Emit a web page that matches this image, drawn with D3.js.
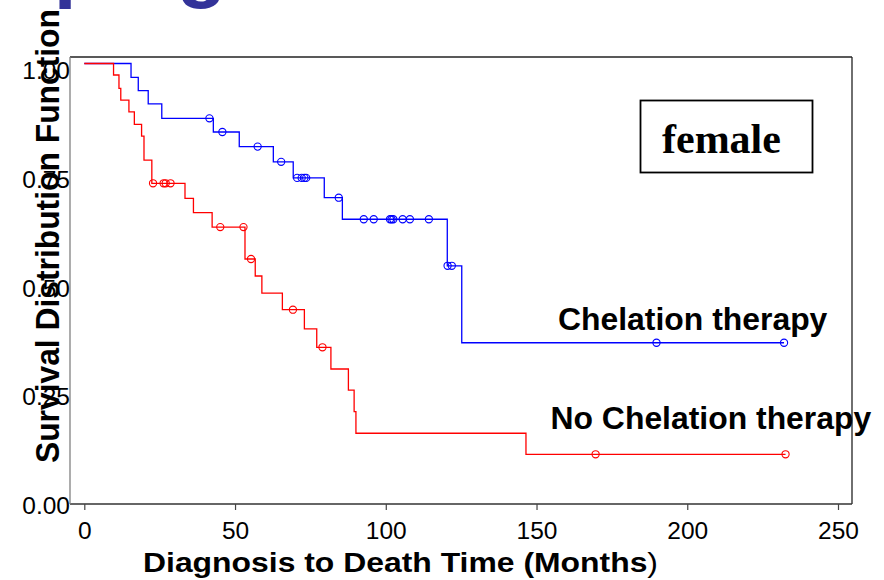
<!DOCTYPE html>
<html>
<head>
<meta charset="utf-8">
<script src="https://cdn.jsdelivr.net/npm/d3@7"></script>
<style>
  html, body { margin: 0; padding: 0; background: #fff; }
  svg { display: block; }
</style>
</head>
<body>
<svg id="chart" width="884" height="580"></svg>
<script>
// Kaplan–Meier survival, female patients, by chelation therapy

// Chelation therapy: step times (months) and survival after each step
const chelTimes = [0, 15.5, 17.9, 21.2, 25.7, 42.8, 51.4, 62.7, 69.3, 79.6, 85.6, 120.4, 125.2];
const chelSurv  = [1, 0.968, 0.9375, 0.907, 0.874, 0.8425, 0.809, 0.774, 0.737, 0.6915, 0.642, 0.535, 0.358];
const chelCensor = [41.5, 45.8, 57.5, 65.3, 70.6, 72.1, 73.0, 73.6, 84.4, 92.7, 96.0, 101.4, 101.9,
                    102.5, 105.6, 108.0, 114.3, 120.5, 121.9, 189.8, 232.1];

// No chelation therapy
const noChelTimes = [0, 9.7, 11.5, 12.1, 14.8, 16.6, 19.0, 19.8, 22.4, 33.4, 36.2, 42.4, 53.3, 56.7,
                     58.9, 65.7, 73.0, 77.1, 81.8, 87.6, 89.5, 90.1, 146.5];
const noChelSurv  = [1, 0.9736, 0.943, 0.916, 0.889, 0.860, 0.833, 0.778, 0.7246, 0.690, 0.657, 0.624,
                     0.5506, 0.5115, 0.472, 0.434, 0.390, 0.3476, 0.2977, 0.249, 0.1995, 0.150, 0.1016];
const noChelCensor = [22.8, 26.3, 27.0, 28.6, 45.1, 52.8, 55.3, 69.2, 79.0, 169.6, 232.6];

const xTicks = [0, 50, 100, 150, 200, 250];
const yTicks = [0, 0.25, 0.5, 0.75, 1.0];

const groups = [
  { name: "Chelation therapy", times: chelTimes, surv: chelSurv, censor: chelCensor, color: "#0000ff" },
  { name: "No Chelation therapy", times: noChelTimes, surv: noChelSurv, censor: noChelCensor, color: "#ff0000" }
];

const svg = d3.select("#chart");
const frame = { left: 70, right: 852, top: 57, bottom: 504 };

const x = d3.scaleLinear().domain([0, 250]).range([84.3, 838]);
const y = d3.scaleLinear().domain([0, 1]).range([498.5, 63.5]);

// slide heading, mostly above the visible area
svg.append("text")
  .attr("x", -142).attr("y", -8)
  .attr("font-family", "Liberation Sans, Arial, sans-serif")
  .attr("font-weight", "bold").attr("font-size", 82)
  .attr("fill", "#333399")
  .text("Grouping");

// plot frame
svg.append("line").attr("x1", frame.left).attr("x2", frame.right)
  .attr("y1", frame.top).attr("y2", frame.top).attr("stroke", "#222").attr("stroke-width", 1.3);
svg.append("line").attr("x1", frame.right).attr("x2", frame.right)
  .attr("y1", frame.top).attr("y2", frame.bottom).attr("stroke", "#222").attr("stroke-width", 1.3);
svg.append("line").attr("x1", frame.left).attr("x2", frame.right)
  .attr("y1", frame.bottom).attr("y2", frame.bottom).attr("stroke", "#333").attr("stroke-width", 1.3);
svg.append("line").attr("x1", frame.left).attr("x2", frame.left)
  .attr("y1", frame.top).attr("y2", frame.bottom).attr("stroke", "#808080").attr("stroke-width", 1.3);

// x axis
const xAxis = svg.append("g")
  .attr("transform", `translate(0,${frame.bottom})`)
  .call(d3.axisBottom(x).tickValues(xTicks).tickFormat(d3.format("d")).tickSize(6).tickPadding(11.5));
xAxis.select(".domain").remove();
xAxis.selectAll(".tick line").attr("stroke", "#444").attr("stroke-width", 1.2);
xAxis.selectAll(".tick text")
  .attr("font-family", "Liberation Sans, Arial, sans-serif")
  .attr("font-size", 24.5).attr("fill", "#000");

// y axis
const yAxis = svg.append("g")
  .attr("transform", `translate(${frame.left},0)`)
  .call(d3.axisLeft(y).tickValues(yTicks).tickFormat(d3.format(".2f")).tickSize(0).tickPadding(0));
yAxis.select(".domain").remove();
yAxis.selectAll(".tick text")
  .attr("font-family", "Liberation Sans, Arial, sans-serif")
  .attr("font-size", 24.5).attr("fill", "#000")
  .attr("dy", "0.62em");

// axis titles
svg.append("text")
  .attr("x", 143).attr("y", 571.5)
  .attr("font-family", "Liberation Sans, Arial, sans-serif")
  .attr("font-size", 28).attr("fill", "#000")
  .attr("textLength", 515).attr("lengthAdjust", "spacingAndGlyphs")
  .call(t => {
    t.append("tspan").attr("font-weight", "bold").text("Diagnosis to Death Time (Months");
    t.append("tspan").text(")");
  });

svg.append("text")
  .attr("transform", "translate(59,463) rotate(-90) scale(1,1.05)")
  .attr("font-family", "Liberation Sans, Arial, sans-serif")
  .attr("font-weight", "bold").attr("font-size", 31.8).attr("fill", "#000")
  .text("Survival Distribution Function");

// survival curves
function stepValue(g, t) {
  let v = g.surv[0];
  for (let i = 0; i < g.times.length; i++) if (g.times[i] <= t) v = g.surv[i];
  return v;
}

const line = d3.line().x(d => x(d[0])).y(d => y(d[1])).curve(d3.curveStepAfter);

groups.forEach(g => {
  const end = d3.max(g.censor);
  const pts = g.times.map((t, i) => [t, g.surv[i]]);
  pts.push([end, g.surv[g.surv.length - 1]]);

  svg.append("path")
    .datum(pts)
    .attr("d", line)
    .attr("fill", "none")
    .attr("stroke", g.color)
    .attr("stroke-width", 1.3);

  svg.append("g").selectAll("circle")
    .data(g.censor)
    .join("circle")
    .attr("cx", d => x(d))
    .attr("cy", d => y(stepValue(g, d)))
    .attr("r", 3.6)
    .attr("fill", "none")
    .attr("stroke", g.color)
    .attr("stroke-width", 1.1);
});

// group labels
svg.append("text")
  .attr("x", 558).attr("y", 330)
  .attr("font-family", "Liberation Sans, Arial, sans-serif")
  .attr("font-weight", "bold").attr("font-size", 31.9).attr("fill", "#000")
  .text(groups[0].name);
svg.append("text")
  .attr("x", 550.5).attr("y", 429.3)
  .attr("font-family", "Liberation Sans, Arial, sans-serif")
  .attr("font-weight", "bold").attr("font-size", 31.9).attr("fill", "#000")
  .text(groups[1].name);

// panel label box
svg.append("rect")
  .attr("x", 640.5).attr("y", 100.5).attr("width", 172).attr("height", 72)
  .attr("fill", "#fff").attr("stroke", "#000").attr("stroke-width", 1.8);
svg.append("text")
  .attr("x", 662).attr("y", 152.7)
  .attr("font-family", "Liberation Serif, Times New Roman, serif")
  .attr("font-weight", "bold").attr("font-size", 42).attr("fill", "#000")
  .text("female");
</script>
</body>
</html>
